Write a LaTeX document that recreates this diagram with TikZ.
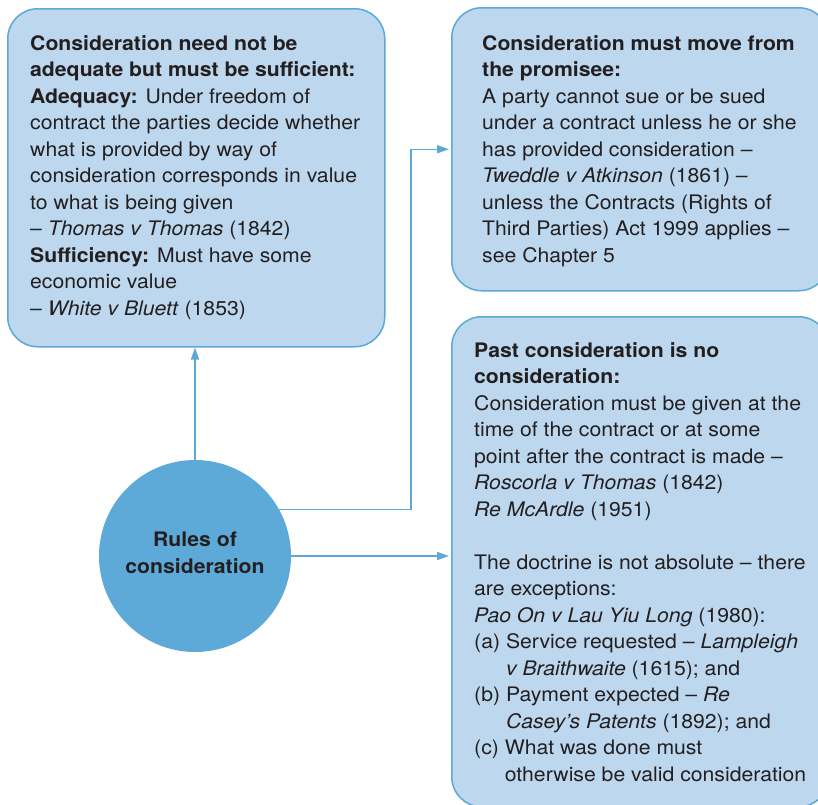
\documentclass[tikz,border=0pt]{standalone}
\usepackage{fontspec}
\setmainfont{TeX Gyre Heros}[FakeStretch=1.06]
\usetikzlibrary{arrows.meta}

\definecolor{boxfill}{HTML}{BDD7EE}
\definecolor{boxline}{HTML}{5BA8D9}
\definecolor{hub}{HTML}{5DAAD9}
\definecolor{ink}{HTML}{231F20}

\tikzset{
  panel/.style={draw=boxline, line width=1.5pt, fill=boxfill, rounded corners=30pt,
                anchor=north west, inner sep=0pt, minimum width=377pt},
  % multi-line text is placed by the baseline of its last line
  panetext/.style={anchor=base west, inner sep=0pt, align=left, text=ink,
                   font=\fontsize{20}{26.5}\selectfont},
  hubnode/.style={circle, fill=hub, minimum size=192pt, inner sep=0pt},
  hubtext/.style={text=ink, font=\fontsize{20}{26.5}\selectfont\bfseries, align=center,
                  anchor=base, inner sep=0pt},
  link/.style={draw=boxline, line width=1.5pt, -{Triangle[length=12pt,width=8pt]}},
}

\begin{document}
\begin{tikzpicture}[x=1pt,y=-1pt]
\useasboundingbox (0,0) rectangle (818,804);

% the three rule panels
\node[panel, minimum height=338pt] (b1) at (7,8) {};
\node[panel, minimum height=283pt] (b2) at (451,7) {};
\node[panel, minimum height=490pt] (b3) at (451,316) {};

\node[panetext] (t1) at (30,315) {%
\textbf{Consideration need not be}\\
\textbf{adequate but must be sufficient:}\\
\textbf{Adequacy:} Under freedom of\\
contract the parties decide whether\\
what is provided by way of\\
consideration corresponds in value\\
to what is being given\\
– \textit{Thomas v Thomas} (1842)\\
\textbf{Sufficiency:} Must have some\\
economic value\\
– \textit{White v Bluett} (1853)};

\node[panetext] (t2) at (482,262) {%
\textbf{Consideration must move from}\\
\textbf{the promisee:}\\
A party cannot sue or be sued\\
under a contract unless he or she\\
has provided consideration –\\
\textit{Tweddle v Atkinson} (1861) –\\
unless the Contracts (Rights of\\
Third Parties) Act 1999 applies –\\
see Chapter 5};

\node[panetext] (t3) at (474,781) {%
\textbf{Past consideration is no}\\
\textbf{consideration:}\\
Consideration must be given at the\\
time of the contract or at some\\
point after the contract is made –\\
\textit{Roscorla v Thomas} (1842)\\
\textit{Re McArdle} (1951)\\
\mbox{}\\
The doctrine is not absolute – there\\
are exceptions:\\
\textit{Pao On v Lau Yiu Long} (1980):\\
(a) Service requested – \textit{Lampleigh}\\
\phantom{(a) }\textit{v Braithwaite} (1615); and\\
(b) Payment expected – \textit{Re}\\
\phantom{(b) }\textit{Casey’s Patents} (1892); and\\
(c) What was done must\\
\phantom{(c) }otherwise be valid consideration};

% central hub
\node[hubnode] (c) at (195,556) {};
\node[hubtext] (ct) at (195,573) {Rules of\\consideration};

% connectors
\coordinate (bend) at (411,0);
\draw[link] (c.north) -- (c.north |- b1.south);
\draw[link] (c.29) -- (c.29 -| bend) -- (bend |- b2.west) -- ([xshift=-2pt]b2.west);
\draw[link] (c.east) -- ([xshift=-2pt]c.east -| b3.west);
\end{tikzpicture}
\end{document}
